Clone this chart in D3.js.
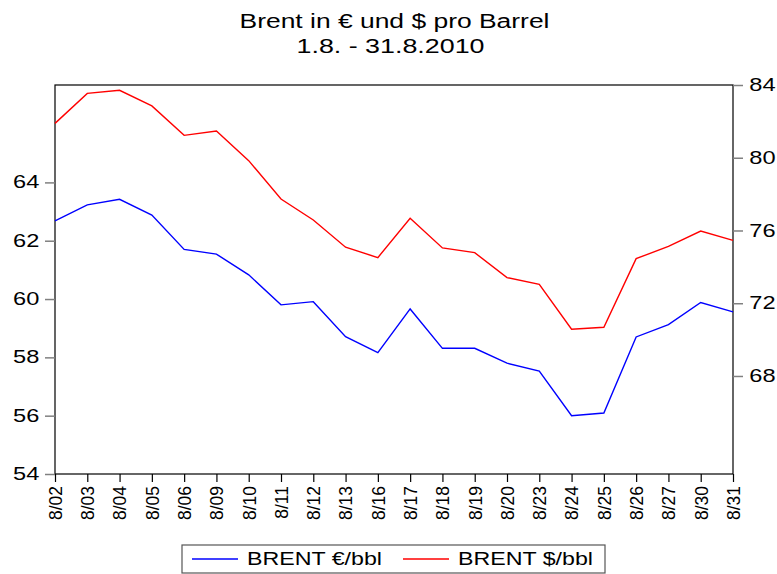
<!DOCTYPE html>
<html>
<head>
<meta charset="utf-8">
<script src="https://cdn.jsdelivr.net/npm/d3@7"></script>
<style>
  body { margin: 0; background: #fff; }
  text { font-family: "Liberation Sans", Arial, sans-serif; fill: #000; }
</style>
</head>
<body>
<div id="chart"></div>
<script>
// data
var dates = ['8/02', '8/03', '8/04', '8/05', '8/06', '8/09', '8/10', '8/11', '8/12', '8/13', '8/16',
  '8/17', '8/18', '8/19', '8/20', '8/23', '8/24', '8/25', '8/26', '8/27', '8/30', '8/31'];
var brentEur = [62.68, 63.23, 63.42, 62.88, 61.70, 61.54, 60.83, 59.80, 59.91, 58.71, 58.16,
  59.66, 58.31, 58.31, 57.80, 57.53, 56.00, 56.09, 58.70, 59.12, 59.88, 59.56];
var brentUsd = [81.89, 83.54, 83.71, 82.85, 81.23, 81.47, 79.84, 77.73, 76.58, 75.08, 74.51,
  76.67, 75.04, 74.78, 73.41, 73.04, 70.57, 70.68, 74.45, 75.13, 75.97, 75.46];
var leftTicks = [54, 56, 58, 60, 62, 64];
var rightTicks = [68, 72, 76, 80, 84];
var titleLines = ['Brent in € und $ pro Barrel', '1.8. - 31.8.2010'];
var seriesNames = ['BRENT €/bbl', 'BRENT $/bbl'];

var width = 777,
  height = 574;
// plot box (don't call it "top", that clashes with window.top)
var pLeft = 55, pRight = 733, pTop = 85, pBottom = 474;

var svg = d3.select('#chart')
  .append('svg')
  .attr('width', width)
  .attr('height', height);

var x = d3.scalePoint().domain(dates).range([pLeft, pRight]);
var yL = d3.scaleLinear().domain([54, 67.34]).range([pBottom, pTop]);
var yR = d3.scaleLinear().domain([62.61, 84]).range([pBottom, pTop]);

// title (the original font is wider than Arial, so stretch it)
svg.selectAll('text.title')
  .data(titleLines)
  .enter()
  .append('text')
  .attr('class', 'title')
  .attr('x', function (d, i) { return i == 0 ? 239.5 : 296.5; })
  .attr('y', function (d, i) { return i == 0 ? 28 : 53; })
  .attr('font-size', 19.5)
  .attr('textLength', function (d, i) { return i == 0 ? 310 : 188; })
  .attr('lengthAdjust', 'spacingAndGlyphs')
  .text(function (d) { return d; });

// frame
svg.append('rect')
  .attr('x', pLeft).attr('y', pTop)
  .attr('width', pRight - pLeft).attr('height', pBottom - pTop)
  .attr('fill', 'none').attr('stroke', '#000').attr('stroke-width', 1.2);

// left axis
var gl = svg.append('g')
  .attr('transform', 'translate(' + pLeft + ',0)')
  .call(d3.axisLeft(yL).tickValues(leftTicks).tickSize(10).tickFormat(d3.format('d')));
gl.select('.domain').remove();
gl.selectAll('.tick line').attr('stroke', '#808080').attr('stroke-width', 1.5);
gl.selectAll('.tick text')
  .attr('font-size', 17.5)
  .attr('font-family', '"Liberation Sans", Arial, sans-serif')
  .attr('x', -15.7 / 1.35)
  .attr('transform', 'scale(1.35,1)');

// right axis
var gr = svg.append('g')
  .attr('transform', 'translate(' + pRight + ',0)')
  .call(d3.axisRight(yR).tickValues(rightTicks).tickSize(10).tickFormat(d3.format('d')));
gr.select('.domain').remove();
gr.selectAll('.tick line').attr('stroke', '#808080').attr('stroke-width', 1.5);
gr.selectAll('.tick text')
  .attr('font-size', 17.5)
  .attr('font-family', '"Liberation Sans", Arial, sans-serif')
  .attr('x', 16.3 / 1.35)
  .attr('transform', 'scale(1.35,1)');

// bottom axis with vertical labels
var gb = svg.append('g')
  .attr('transform', 'translate(0,' + pBottom + ')')
  .call(d3.axisBottom(x).tickSize(8));
gb.select('.domain').remove();
gb.selectAll('.tick line').attr('stroke', '#000').attr('stroke-width', 1.2);
gb.selectAll('.tick text')
  .attr('font-size', 17.5)
  .attr('font-family', '"Liberation Sans", Arial, sans-serif')
  .attr('text-anchor', 'end')
  .attr('x', 0)
  .attr('y', 0)
  .attr('dy', '0.36em')
  .attr('transform', 'translate(0,12) rotate(-90)');

// lines
var lineL = d3.line()
  .x(function (d, i) { return x(dates[i]); })
  .y(function (d) { return yL(d); });
var lineR = d3.line()
  .x(function (d, i) { return x(dates[i]); })
  .y(function (d) { return yR(d); });

svg.append('path')
  .datum(brentUsd)
  .attr('d', lineR)
  .attr('fill', 'none')
  .attr('stroke', '#ff0000')
  .attr('stroke-width', 1.4);

svg.append('path')
  .datum(brentEur)
  .attr('d', lineL)
  .attr('fill', 'none')
  .attr('stroke', '#0000ff')
  .attr('stroke-width', 1.4);

// legend
var legend = svg.append('g');
legend.append('rect')
  .attr('x', 182).attr('y', 545)
  .attr('width', 423).attr('height', 28)
  .attr('fill', '#fff').attr('stroke', '#555').attr('stroke-width', 1.2);

var colors = ['#0000ff', '#ff0000'];
var items = legend.selectAll('g.item')
  .data(seriesNames)
  .enter()
  .append('g')
  .attr('class', 'item')
  .attr('transform', function (d, i) { return 'translate(' + (i == 0 ? 192 : 403) + ',0)'; });
items.append('line')
  .attr('x1', 0).attr('x2', 46)
  .attr('y1', 559).attr('y2', 559)
  .attr('stroke', function (d, i) { return colors[i]; })
  .attr('stroke-width', 1.4);
items.append('text')
  .attr('x', 55)
  .attr('y', 565)
  .attr('font-size', 18.5)
  .attr('textLength', 135)
  .attr('lengthAdjust', 'spacingAndGlyphs')
  .text(function (d) { return d; });
</script>
</body>
</html>
